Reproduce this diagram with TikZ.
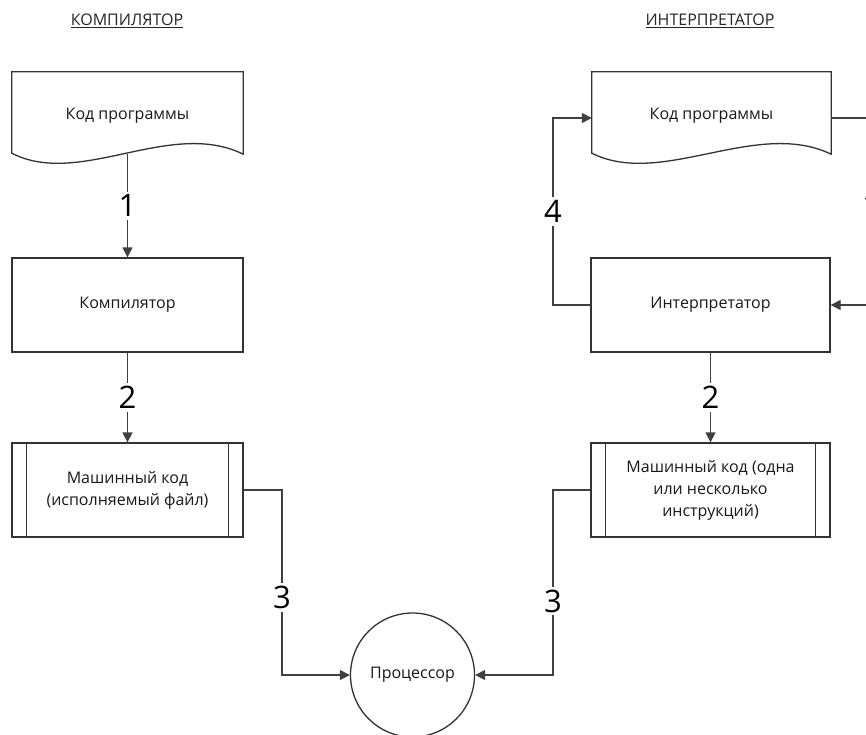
\documentclass[tikz,border=0pt]{standalone}
\usepackage{fontspec}
\setmainfont{Open Sans}
\usetikzlibrary{calc,arrows.meta}
\begin{document}
\begin{tikzpicture}[x=1pt,y=-1pt,
  shapeline/.style={draw=black!80, line width=1.3pt},
  txt/.style={font=\fontsize{16}{22}\selectfont, align=center, text=black!90},
  block/.style={shapeline, txt, rectangle, minimum width=231pt, minimum height=94pt, inner sep=0pt},
  docnode/.style={txt, rectangle, minimum width=231pt, minimum height=92pt, inner sep=0pt},
  conn/.style={draw=black!75, line width=1.3pt},
  arr/.style={conn, -{Triangle[length=10pt,width=10pt]}},
  num/.style={fill=white, font=\fontsize{31}{31}\selectfont, inner sep=3pt, text=black},
  titletxt/.style={font=\fontsize{16}{18}\selectfont, text=black!85}
]
\clip (0,0) rectangle (866,734);
\fill[white] (0,0) rectangle (866,734);

% titles
\node[titletxt] (t1) at (127,21) {\underline{КОМПИЛЯТОР}};
\node[titletxt] (t2) at (710,21) {\underline{ИНТЕРПРЕТАТОР}};

% left column
\node[docnode] (doc1) at (127.5,118) {\raisebox{9pt}{Код программы}};
\draw[shapeline] (doc1.north west) -- (doc1.north east) -- ($(doc1.south east)+(0,-10)$)
  .. controls ($(doc1.south east)+(-73,-46)$) and ($(doc1.south west)+(68,24)$) .. ($(doc1.south west)+(0,-11)$) -- cycle;
\node[block] (comp) at (127.5,305) {Компилятор};
\node[block] (mc1) at (127.5,490) {Машинный код\\(исполняемый файл)};
\draw[shapeline] ($(mc1.north west)+(15,0)$) -- ($(mc1.south west)+(15,0)$);
\draw[shapeline] ($(mc1.north east)+(-15,0)$) -- ($(mc1.south east)+(-15,0)$);

% right column
\node[docnode, minimum width=239pt] (doc2) at (711.5,118) {\raisebox{9pt}{Код программы}};
\draw[shapeline] (doc2.north west) -- (doc2.north east) -- ($(doc2.south east)+(0,-10)$)
  .. controls ($(doc2.south east)+(-75,-46)$) and ($(doc2.south west)+(70,24)$) .. ($(doc2.south west)+(0,-11)$) -- cycle;
\node[block, minimum width=239pt] (interp) at (710.5,305) {Интерпретатор};
\node[block, minimum width=239pt] (mc2) at (710.5,490) {Машинный код (одна\\или несколько\\инструкций)};
\draw[shapeline] ($(mc2.north west)+(15,0)$) -- ($(mc2.south west)+(15,0)$);
\draw[shapeline] ($(mc2.north east)+(-15,0)$) -- ($(mc2.south east)+(-15,0)$);

% processor
\node[shapeline, txt, circle, minimum size=124pt, inner sep=0pt] (cpu) at (412.5,675) {Процессор};

% coordinates
\coordinate (l3) at (282,490);
\coordinate (r3) at (553,490);
\coordinate (c4a) at (553,305);
\coordinate (c4b) at (553,118);
\coordinate (c1a) at (871,118);
\coordinate (c1b) at (871,305);

% left connectors
\draw[arr] ($(doc1.south)+(0,-10)$) -- node[num, pos=0.5] {1} (comp.north);
\draw[arr] (comp.south) -- node[num, pos=0.5] {2} (mc1.north);
\draw[arr] (mc1.east) -- (l3) -- node[num, pos=0.58] {3} (l3 |- cpu.west) -- (cpu.west);

% right connectors
\draw[arr] (doc2.east) -- (c1a) -- node[num, pos=0.47] {1} (c1b) -- (interp.east);
\draw[arr] (interp.west) -- (c4a) -- node[num, pos=0.5] {4} (c4b) -- (doc2.west);
\draw[arr] (interp.south) -- node[num, pos=0.5] {2} (mc2.north);
\draw[arr] (mc2.west) -- (r3) -- node[num, pos=0.6] {3} (r3 |- cpu.east) -- (cpu.east);
\end{tikzpicture}
\end{document}
